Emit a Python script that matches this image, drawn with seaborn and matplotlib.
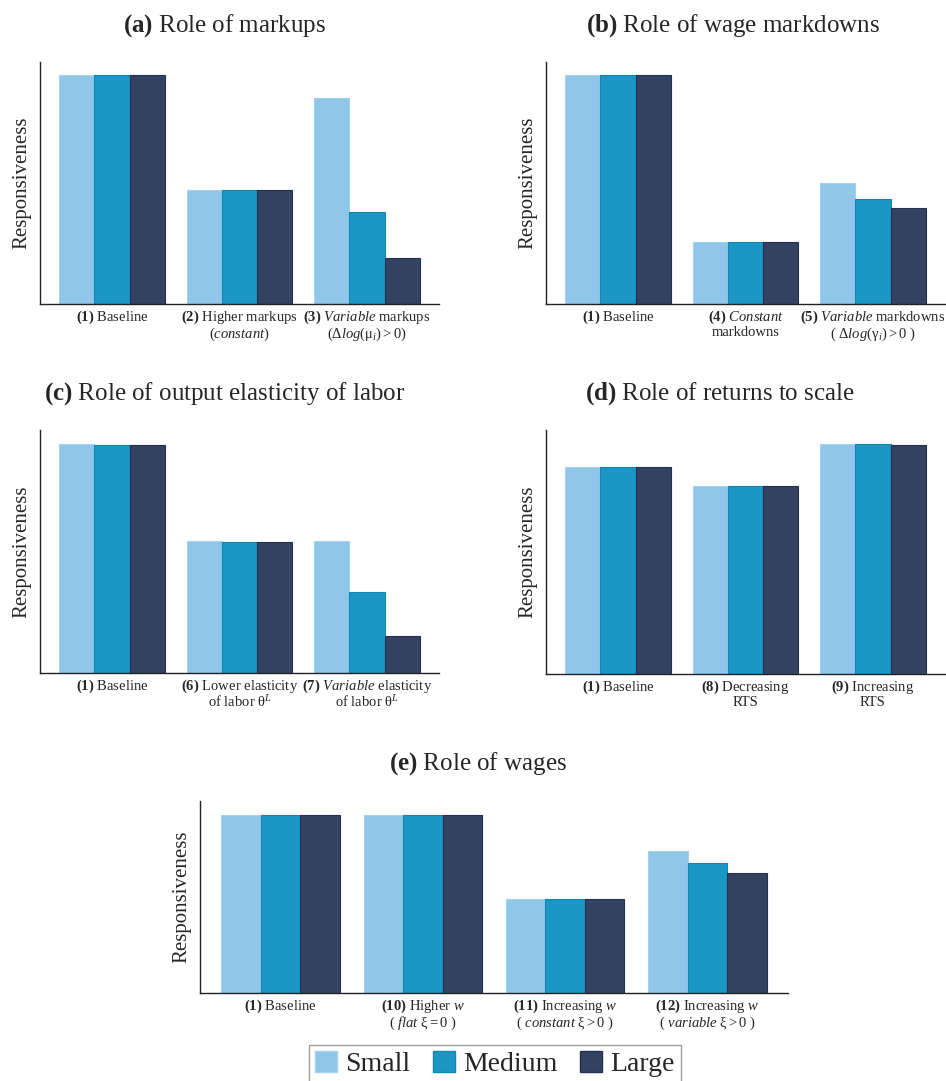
#Importing Libraries
import numpy as np
import pandas as pd
import matplotlib
matplotlib.use("Agg")
import matplotlib.pyplot as plt
from matplotlib.patches import Patch
import seaborn as sns

#Data (responsiveness relative to the baseline)
sizes = ["Small", "Medium", "Large"]

a_labels = [r"$\mathbf{(1)}$ Baseline",
            "$\\mathbf{(2)}$ Higher markups\n$\\mathit{(constant)}$",
            "$\\mathbf{(3)}$ $\\mathit{Variable}$ markups\n$(\\Delta \\mathit{log}(\\mathrm{\\mu}_i) > 0)$"]
a_small = [1.0, 0.50, 0.90]
a_medium = [1.0, 0.50, 0.40]
a_large = [1.0, 0.50, 0.20]

b_labels = [r"$\mathbf{(1)}$ Baseline",
            "$\\mathbf{(4)}$ $\\mathit{Constant}$\nmarkdowns",
            "$\\mathbf{(5)}$ $\\mathit{Variable}$ markdowns\n( $\\Delta \\mathit{log}(\\mathrm{\\gamma}_i) > 0$ )"]
b_small = [1.0, 0.27, 0.53]
b_medium = [1.0, 0.27, 0.46]
b_large = [1.0, 0.27, 0.42]

c_labels = [r"$\mathbf{(1)}$ Baseline",
            "$\\mathbf{(6)}$ Lower elasticity\nof labor $\\mathrm{\\theta}^L$",
            "$\\mathbf{(7)}$ $\\mathit{Variable}$ elasticity\nof labor $\\mathrm{\\theta}^L$"]
c_small = [1.0, 0.576, 0.576]
c_medium = [0.996, 0.572, 0.354]
c_large = [0.996, 0.572, 0.16]

d_labels = [r"$\mathbf{(1)}$ Baseline",
            "$\\mathbf{(8)}$ Decreasing\nRTS",
            "$\\mathbf{(9)}$ Increasing\nRTS"]
d_small = [0.90, 0.817, 1.0]
d_medium = [0.898, 0.817, 1.0]
d_large = [0.90, 0.817, 0.996]

e_labels = [r"$\mathbf{(1)}$ Baseline",
            "$\\mathbf{(10)}$ Higher $w$\n( $\\mathit{flat}$ $\\mathrm{\\xi} = 0$ )",
            "$\\mathbf{(11)}$ Increasing $w$\n( $\\mathit{constant}$ $\\mathrm{\\xi} > 0$ )",
            "$\\mathbf{(12)}$ Increasing $w$\n( $\\mathit{variable}$ $\\mathrm{\\xi} > 0$ )"]
e_small = [1.0, 1.0, 0.528, 0.80]
e_medium = [1.0, 1.0, 0.528, 0.73]
e_large = [1.0, 1.0, 0.528, 0.674]

titles = [r"$\mathbf{(a)}$ Role of markups",
          r"$\mathbf{(b)}$ Role of wage markdowns",
          r"$\mathbf{(c)}$ Role of output elasticity of labor",
          r"$\mathbf{(d)}$ Role of returns to scale",
          r"$\mathbf{(e)}$ Role of wages"]

#Style
colors = ["#8FC6EA", "#1A97C4", "#344261"]
edges = ["#A5D2EF", "#1285B0", "#24304F"]
sns.set_style("white")
plt.rcParams['font.family'] = ['Liberation Serif', 'DejaVu Serif']
plt.rcParams['mathtext.fontset'] = 'custom'
plt.rcParams['mathtext.rm'] = 'Liberation Serif'
plt.rcParams['mathtext.it'] = 'Liberation Serif:italic'
plt.rcParams['mathtext.bf'] = 'Liberation Serif:bold'

W, H = 946, 1081
fig = plt.figure(figsize=(W / 100, H / 100), dpi=100)

# panel boxes in pixels: left, top, right, bottom
panels = [
    (a_labels, [a_small, a_medium, a_large], (40, 62, 439, 304), 1.057, (225, 26)),
    (b_labels, [b_small, b_medium, b_large], (546, 62, 945, 304), 1.057, (733, 26)),
    (c_labels, [c_small, c_medium, c_large], (40, 430, 439, 673), 1.061, (225, 394)),
    (d_labels, [d_small, d_medium, d_large], (546, 430, 945, 674), 1.061, (720, 394)),
    (e_labels, [e_small, e_medium, e_large], (200, 801, 788, 993), 1.079, (478, 764)),
]

for (labels, values, box, ytop, tpos), title in zip(panels, titles):
    l, t, r, b = box
    ax = fig.add_axes([l / W, 1 - b / H, (r - l) / W, (b - t) / H])
    rows = []
    for s, vals in zip(sizes, values):
        for lab, v in zip(labels, vals):
            rows.append({"scenario": lab, "size": s, "value": v})
    df = pd.DataFrame(rows)
    sns.barplot(data=df, x="scenario", y="value", hue="size", order=labels,
                hue_order=sizes, palette=colors, saturation=1, width=0.83,
                errorbar=None, legend=False, ax=ax)
    for cont, ec in zip(ax.containers, edges):
        for p in cont:
            p.set_edgecolor(ec)
            p.set_linewidth(0.8)
    n = len(labels)
    ax.set_xlim(-0.565, n - 1 + 0.565)
    ax.set_ylim(0, ytop)
    ax.set_yticks([])
    ax.set_xlabel("")
    ax.set_ylabel("Responsiveness", fontsize=15, labelpad=6)
    ax.tick_params(axis="x", length=0, pad=3, labelsize=10.5)
    ax.set_xticks(range(n))
    ax.set_xticklabels(labels, linespacing=1.0)
    for side in ["top", "right"]:
        ax.spines[side].set_visible(False)
    for side in ["left", "bottom"]:
        ax.spines[side].set_color("#222222")
        ax.spines[side].set_linewidth(1.0)
    fig.text(tpos[0] / W, 1 - tpos[1] / H, title, ha="center", va="center", fontsize=18)

#Legend
handles = [Patch(facecolor=c, edgecolor=e, label=s) for c, e, s in zip(colors, edges, sizes)]
fig.legend(handles=handles, loc="center", bbox_to_anchor=(495 / W, 1 - 1064 / H),
           ncol=3, fontsize=20, frameon=True, fancybox=False, edgecolor="#888888",
           handlelength=0.8, handleheight=0.8, handletextpad=0.3, columnspacing=0.8,
           borderpad=0.2)

plt.savefig("out.png", dpi=100)
